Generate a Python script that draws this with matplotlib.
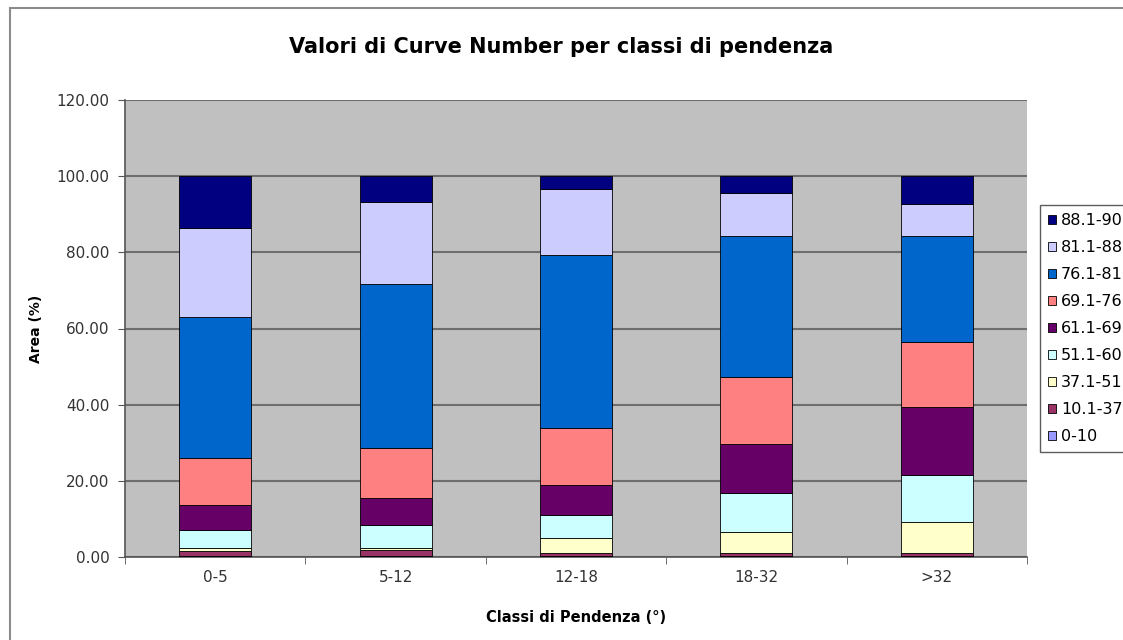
import matplotlib.pyplot as plt
import numpy as np
from matplotlib.patches import Rectangle

plt.rcParams['font.family'] = ['DejaVu Sans']

classi = ['0-5', '5-12', '12-18', '18-32', '>32']
etichette = ['0-10', '10.1-37', '37.1-51', '51.1-60', '61.1-69',
             '69.1-76', '76.1-81', '81.1-88', '88.1-90']
colori = ['#9999FF', '#993366', '#FFFFCC', '#CCFFFF', '#660066',
          '#FF8080', '#0066CC', '#CCCCFF', '#000080']

# valori (%) per classe di CN, una lista per classe di pendenza
cn_0_10 = [0.3, 0.3, 0.3, 0.3, 0.3]
cn_10_37 = [1.2, 1.5, 0.7, 0.7, 0.7]
cn_37_51 = [0.8, 0.5, 3.9, 5.6, 8.3]
cn_51_60 = [4.8, 6.1, 6.1, 10.1, 12.2]
cn_61_69 = [6.5, 7.0, 7.9, 13.1, 17.9]
cn_69_76 = [12.3, 13.1, 14.9, 17.5, 17.1]
cn_76_81 = [37.2, 43.3, 45.5, 37.0, 27.8]
cn_81_88 = [23.3, 21.5, 17.2, 11.2, 8.5]
cn_88_90 = [13.6, 6.7, 3.5, 4.5, 7.2]

serie = [cn_0_10, cn_10_37, cn_37_51, cn_51_60, cn_61_69,
         cn_69_76, cn_76_81, cn_81_88, cn_88_90]

fig = plt.figure(figsize=(11.23, 6.4), dpi=100)
# bordo esterno del grafico (stile Excel)
fig.patches.append(Rectangle((10/1123, -0.1), 1.2, 1.1 - 8/640, transform=fig.transFigure,
                             fill=False, edgecolor='#8C8C8C', linewidth=1.5))

ax = fig.add_axes([125/1123, 1-557/640, 902/1123, 457/640])
ax.set_facecolor('#C0C0C0')

x = np.arange(len(classi))
base = np.zeros(len(classi))
for val, col, lab in zip(serie, colori, etichette):
    ax.bar(x, val, 0.4, bottom=base, color=col, edgecolor='black',
           linewidth=0.6, label=lab, zorder=3)
    base += np.array(val)

ax.set_xlim(-0.5, 4.5)
ax.set_ylim(0, 120)
ax.set_yticks(np.arange(0, 121, 20))
ax.set_yticklabels(['%.2f' % v for v in np.arange(0, 121, 20)], fontsize=11, color='#333333')
ax.set_xticks(x)
ax.set_xticklabels(classi, fontsize=11, color='#333333')
ax.set_xticks(np.arange(-0.5, 4.6, 1), minor=True)
ax.tick_params(axis='x', which='major', length=0, pad=9)
ax.tick_params(axis='x', which='minor', length=5, direction='out', color='#555555')
ax.tick_params(axis='y', length=5, direction='out', color='#555555', pad=6)

ax.yaxis.grid(True, color='#6E6E6E', linewidth=1.5, zorder=1)
ax.set_axisbelow(True)
for s in ['top', 'right']:
    ax.spines[s].set_visible(False)
for s in ['left', 'bottom']:
    ax.spines[s].set_color('#555555')
    ax.spines[s].set_linewidth(1.2)

fig.text(0.5, 1-47/640, 'Valori di Curve Number per classi di pendenza',
         ha='center', va='center', fontsize=15, fontweight='bold')
ax.set_ylabel('Area (%)', fontsize=10, fontweight='bold', labelpad=10)
ax.set_xlabel('Classi di Pendenza (°)', fontsize=10.5, fontweight='bold', labelpad=18)

h, l = ax.get_legend_handles_labels()
leg = fig.legend(h[::-1], l[::-1], loc='upper left',
                 bbox_to_anchor=(1040/1123, 1-205/640),
                 fontsize=11.5, frameon=True, fancybox=False, edgecolor='#333333',
                 handlelength=0.5, handleheight=0.5, handletextpad=0.3,
                 labelspacing=0.75, borderpad=0.5, borderaxespad=0)
leg.get_frame().set_linewidth(1.0)

fig.savefig('out.png', dpi=100)
